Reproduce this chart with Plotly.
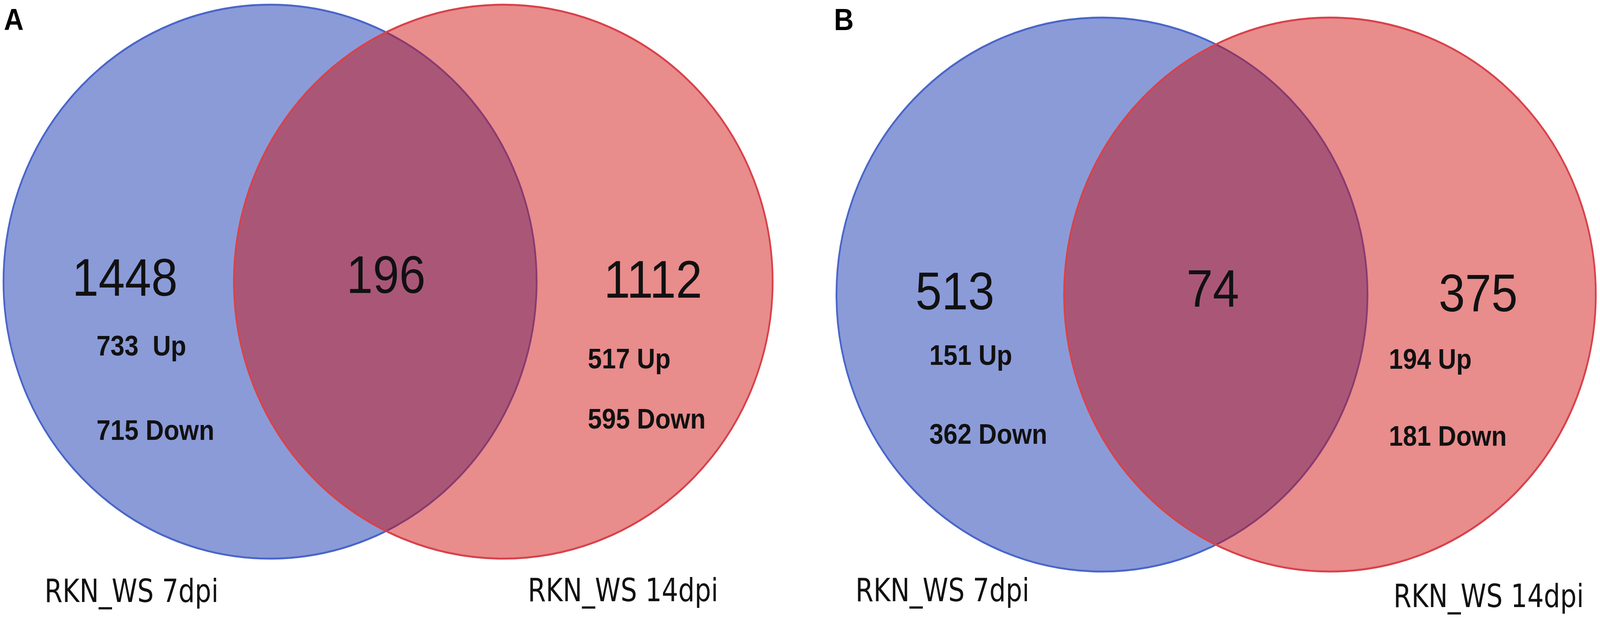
import plotly.graph_objects as go

# Venn counts (panel A, panel B)
panels = ["A", "B"]
only_7dpi = [1448, 513]
shared = [196, 74]
only_14dpi = [1112, 375]
up_7dpi = [733, 151]
down_7dpi = [715, 362]
up_14dpi = [517, 194]
down_14dpi = [595, 181]
set_names = ["RKN_WS 7dpi", "RKN_WS 14dpi"]

# the figure is laid out at the reference size, then fitted to the window
W, H = 4562, 1582

# ellipses (cx, cy, rx, ry) and text anchors, in pixels from top-left
layout_pos = [
    dict(blue=(770, 721, 760, 709), red=(1435, 721, 768, 709),
         letter=(9, 4),
         left=(356, 710), mid=(1100, 703), right=(1862, 715),
         up_l=(273, 885), down_l=(273, 1101), up_r=(1674, 918), down_r=(1674, 1072),
         name_l=(125, 1512), name_r=(1503, 1510), gap="\u00a0\u00a0"),
    dict(blue=(3142, 754, 757, 709), red=(3792, 754, 758, 709),
         letter=(2376, 4),
         left=(2722, 745), mid=(3458, 738), right=(4214, 750),
         up_l=(2648, 909), down_l=(2648, 1111), up_r=(3958, 919), down_r=(3958, 1116),
         name_l=(2437, 1510), name_r=(3971, 1525), gap=" "),
]

BLUE_FILL = "#8b9bd8"
BLUE_LINE = "#4a66c9"
RED_FILL = "rgba(206,10,10,0.47)"
RED_LINE = "#d8424a"

NUM_FONT = dict(family="Liberation Sans, Arial, sans-serif", size=135, color="#111111")
BOLD_FONT = dict(family="Liberation Sans, Arial, sans-serif", size=72, color="#111111", weight="bold")
NAME_FONT = dict(family="DejaVu Sans Condensed, Liberation Sans, sans-serif", size=82, color="#111111")
LETTER_FONT = dict(family="Liberation Sans, Arial, sans-serif", size=78, color="#000000", weight="bold")

fig = go.Figure()
shapes = []
annotations = []


def ellipse(cx, cy, rx, ry, fill, line):
    return dict(type="circle", xref="x", yref="y",
                x0=cx - rx, x1=cx + rx, y0=cy - ry, y1=cy + ry,
                fillcolor=fill, line=dict(color=line, width=5), layer="above")


def label(x, y, text, font, xanchor="left", yanchor="middle"):
    return dict(x=x, y=y, xref="x", yref="y", text=text, showarrow=False,
                xanchor=xanchor, yanchor=yanchor, font=font)


for i, p in enumerate(layout_pos):
    shapes.append(ellipse(*p["blue"], BLUE_FILL, BLUE_LINE))
    shapes.append(ellipse(*p["red"], RED_FILL, RED_LINE))

    annotations.append(label(*p["letter"], panels[i], LETTER_FONT, yanchor="top"))
    annotations.append(label(*p["left"], str(only_7dpi[i]), NUM_FONT, "center"))
    annotations.append(label(*p["mid"], str(shared[i]), NUM_FONT, "center"))
    annotations.append(label(*p["right"], str(only_14dpi[i]), NUM_FONT, "center"))
    annotations.append(label(*p["up_l"], "%d%sUp" % (up_7dpi[i], p["gap"]), BOLD_FONT))
    annotations.append(label(*p["down_l"], "%d Down" % down_7dpi[i], BOLD_FONT))
    annotations.append(label(*p["up_r"], "%d Up" % up_14dpi[i], BOLD_FONT))
    annotations.append(label(*p["down_r"], "%d Down" % down_14dpi[i], BOLD_FONT))
    annotations.append(label(*p["name_l"], set_names[0], NAME_FONT))
    annotations.append(label(*p["name_r"], set_names[1], NAME_FONT))

fig.update_layout(
    width=W, height=H,
    margin=dict(l=0, r=0, t=0, b=0),
    paper_bgcolor="white", plot_bgcolor="white",
    xaxis=dict(range=[0, W], visible=False, fixedrange=True),
    yaxis=dict(range=[H, 0], visible=False, fixedrange=True),
    shapes=shapes,
    annotations=annotations,
    showlegend=False,
)

# the browser window can be narrower than the figure: scale the div to fit it
post = ("document.documentElement.style.overflow='hidden';"
        "document.body.style.margin='0';document.body.style.overflow='hidden';"
        "var gd=document.getElementById('{plot_id}');"
        "var sx=Math.min(1, window.innerWidth/%d), sy=Math.min(1, window.innerHeight/%d);"
        "gd.style.transformOrigin='0 0';"
        "gd.style.transform='scale('+sx+','+sy+')';" % (W, H))
fig.write_html("out.html", post_script=post, config={"displayModeBar": False})
